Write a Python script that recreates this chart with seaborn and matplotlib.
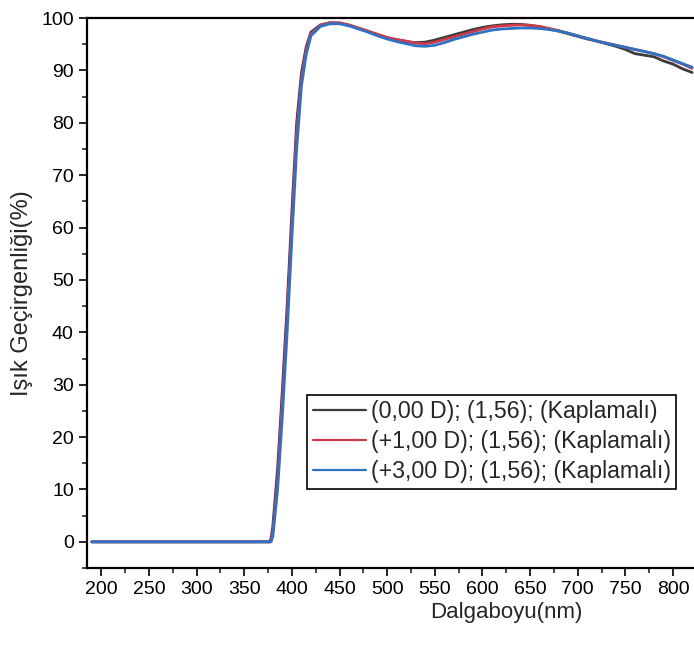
import numpy as np
import pandas as pd
import matplotlib
matplotlib.use("Agg")
import matplotlib.pyplot as plt
import seaborn as sns
from matplotlib.ticker import MultipleLocator

# dalga boyu (nm) ve geçirgenlik (%) değerleri
wl = [190, 376, 378, 380, 385, 390, 395, 400, 405, 410, 415, 420,
      430, 440, 450, 460, 470, 480, 490, 500, 510, 520, 530, 540, 550,
      560, 570, 580, 590, 600, 610, 620, 630, 640, 650, 660, 670, 680,
      690, 700, 710, 720, 730, 740, 750, 760, 770, 780, 790, 800, 810, 820]

t_0d = [0, 0, 0.5, 3, 14, 29, 45, 63, 80, 89.5, 94.5, 97.3,
        98.7, 99.1, 99.0, 98.6, 98.0, 97.4, 96.8, 96.2, 95.8, 95.5, 95.3, 95.4, 95.8,
        96.3, 96.8, 97.3, 97.8, 98.2, 98.5, 98.7, 98.8, 98.8, 98.6, 98.3, 97.9, 97.5,
        97.0, 96.5, 96.0, 95.6, 95.1, 94.6, 94.0, 93.2, 92.9, 92.6, 91.8, 91.2, 90.3, 89.6]

t_1d = [0, 0, 0, 2, 12, 27, 43, 61, 78, 88.5, 94, 97.0,
        98.6, 99.1, 99.1, 98.7, 98.1, 97.5, 96.9, 96.3, 95.9, 95.6, 95.2, 95.1, 95.4,
        95.9, 96.4, 96.9, 97.4, 97.9, 98.3, 98.5, 98.6, 98.7, 98.6, 98.4, 98.0, 97.6,
        97.1, 96.6, 96.1, 95.6, 95.2, 94.8, 94.4, 94.0, 93.6, 93.2, 92.6, 91.9, 91.2, 90.4]

t_3d = [0, 0, 0, 1, 10, 24, 40, 58, 75, 87, 93, 96.6,
        98.4, 98.9, 98.9, 98.5, 97.9, 97.3, 96.6, 96.0, 95.5, 95.1, 94.7, 94.6, 94.8,
        95.3, 95.9, 96.4, 96.9, 97.3, 97.7, 97.9, 98.0, 98.1, 98.1, 98.0, 97.8, 97.5,
        97.1, 96.6, 96.1, 95.6, 95.2, 94.8, 94.4, 94.0, 93.6, 93.2, 92.7, 92.0, 91.3, 90.6]

labels = ["(0,00 D); (1,56); (Kaplamalı)",
          "(+1,00 D); (1,56); (Kaplamalı)",
          "(+3,00 D); (1,56); (Kaplamalı)"]
colors = ["#3c3c3c", "#d0394a", "#2f72c4"]

df = pd.concat([
    pd.DataFrame({"wl": wl, "T": t, "seri": lab})
    for t, lab in zip([t_0d, t_1d, t_3d], labels)
], ignore_index=True)

sns.set_style("ticks")
plt.rcParams["font.family"] = ["Liberation Sans", "DejaVu Sans"]

fig = plt.figure(figsize=(6.94, 6.46), dpi=100)
ax = fig.add_axes([0.1254, 0.1207, 0.8746, 0.8514])

sns.lineplot(data=df, x="wl", y="T", hue="seri", hue_order=labels,
             palette=colors, linewidth=2, ax=ax, sort=False)

ax.set_xlim(185, 822)
ax.set_ylim(-5, 100)
ax.xaxis.set_major_locator(MultipleLocator(50))
ax.xaxis.set_minor_locator(MultipleLocator(25))
ax.yaxis.set_major_locator(MultipleLocator(10))
ax.yaxis.set_minor_locator(MultipleLocator(5))
ax.set_xticks(np.arange(200, 801, 50))

ax.tick_params(which="major", direction="out", length=6, width=1.2, labelsize=14, colors="black")
ax.tick_params(which="minor", direction="out", length=3.5, width=1.2)
for s in ["left", "bottom", "top"]:
    ax.spines[s].set_linewidth(1.6)
    ax.spines[s].set_color("black")
ax.spines["right"].set_visible(False)

ax.set_xlabel("Dalgaboyu(nm)", fontsize=16, x=0.69, labelpad=3)
ax.set_ylabel("Işık Geçirgenliği(%)", fontsize=17, labelpad=6)

leg = ax.legend(loc="lower left", bbox_to_anchor=(0.362, 0.1436), borderaxespad=0,
                fontsize=16.7, frameon=True, fancybox=False, framealpha=1,
                edgecolor="black", handlelength=2.3, handletextpad=0.2,
                labelspacing=0.3, borderpad=0.25)
leg.get_frame().set_linewidth(1.2)
for h in leg.get_lines():
    h.set_linewidth(1.6)

fig.savefig("out.png", dpi=100)
